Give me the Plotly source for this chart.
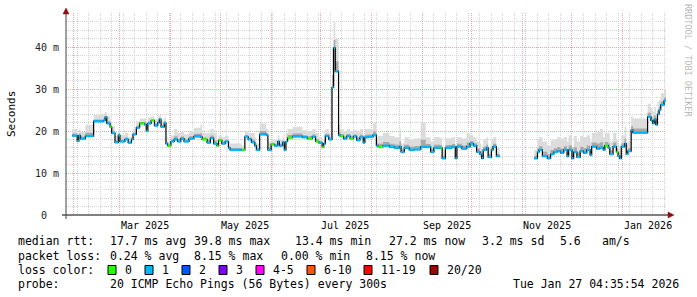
import plotly.graph_objects as go

# ---------------- data ----------------
start_time = "2025-01-27 04:35:54"
end_time = "2026-01-27 04:35:54"

dates = [
    "2025-01-31", "2025-02-03", "2025-02-04", "2025-02-05", "2025-02-08", "2025-02-13", "2025-02-19",
    "2025-02-20", "2025-02-21", "2025-02-23", "2025-02-24", "2025-02-26", "2025-02-28", "2025-03-01",
    "2025-03-04", "2025-03-06", "2025-03-08", "2025-03-09", "2025-03-11", "2025-03-13", "2025-03-16",
    "2025-03-17", "2025-03-18", "2025-03-20", "2025-03-22", "2025-03-24", "2025-03-25", "2025-03-26",
    "2025-03-28", "2025-03-29", "2025-03-30", "2025-04-01", "2025-04-03", "2025-04-05", "2025-04-07",
    "2025-04-09", "2025-04-12", "2025-04-15", "2025-04-19", "2025-04-20", "2025-04-23", "2025-04-25",
    "2025-04-27", "2025-04-29", "2025-04-30", "2025-05-02", "2025-05-04", "2025-05-06", "2025-05-07",
    "2025-05-14", "2025-05-16", "2025-05-18", "2025-05-20", "2025-05-22", "2025-05-23", "2025-05-25",
    "2025-05-29", "2025-05-30", "2025-06-01", "2025-06-03", "2025-06-05", "2025-06-06", "2025-06-08",
    "2025-06-09", "2025-06-10", "2025-06-11", "2025-06-14", "2025-06-20", "2025-06-23", "2025-06-26",
    "2025-06-28", "2025-06-30", "2025-07-02", "2025-07-03", "2025-07-04", "2025-07-06", "2025-07-08",
    "2025-07-09", "2025-07-10", "2025-07-12", "2025-07-13", "2025-07-15", "2025-07-17", "2025-07-19",
    "2025-07-21", "2025-07-23", "2025-07-25", "2025-07-27", "2025-07-28", "2025-07-30", "2025-08-02",
    "2025-08-04", "2025-08-05", "2025-08-08", "2025-08-12", "2025-08-15", "2025-08-18", "2025-08-19",
    "2025-08-21", "2025-08-24", "2025-08-27", "2025-08-31", "2025-09-03", "2025-09-06", "2025-09-08",
    "2025-09-12", "2025-09-13", "2025-09-15", "2025-09-19", "2025-09-21", "2025-09-22", "2025-09-25",
    "2025-09-28", "2025-09-30", "2025-10-02", "2025-10-04", "2025-10-06", "2025-10-07", "2025-10-08",
    "2025-10-10", "2025-10-11", "2025-10-13", "2025-10-14", "2025-10-16", "2025-10-18",
    "2025-11-08", "2025-11-10", "2025-11-11", "2025-11-13", "2025-11-16", "2025-11-18", "2025-11-20",
    "2025-11-22", "2025-11-24", "2025-11-26", "2025-11-28", "2025-11-29", "2025-12-01", "2025-12-02",
    "2025-12-04", "2025-12-06", "2025-12-08", "2025-12-10", "2025-12-12", "2025-12-13", "2025-12-16",
    "2025-12-18", "2025-12-20", "2025-12-21", "2025-12-23", "2025-12-24", "2025-12-26", "2025-12-28",
    "2025-12-29", "2025-12-30", "2025-12-31", "2026-01-02", "2026-01-03", "2026-01-04", "2026-01-06",
    "2026-01-07", "2026-01-16", "2026-01-18", "2026-01-19", "2026-01-20", "2026-01-21", "2026-01-22",
    "2026-01-23", "2026-01-24", "2026-01-26",
]

median_ms = [
    18.9, 17.6, 18.9, 18.2, 18.8, 22.3, 22.5,
    23.3, 21.8, 21.0, 19.5, 17.3, 19.0, 17.5,
    18.0, 17.2, 18.0, 19.2, 20.8, 21.8, 21.5,
    20.0, 21.8, 22.5, 21.3, 22.0, 22.8, 21.0,
    21.9, 17.0, 16.5, 17.5, 18.0, 17.5, 18.2,
    17.5, 18.2, 18.7, 18.6, 18.0, 17.2, 18.3,
    17.0, 16.5, 17.8, 17.0, 17.5, 16.0, 15.5,
    15.5, 18.6, 18.0, 17.3, 16.5, 15.5, 19.2,
    19.0, 15.5, 16.8, 16.5, 17.5, 16.5, 17.3,
    15.5, 17.5, 18.4, 18.7, 18.5, 18.2, 18.6,
    17.5, 17.2, 16.2, 17.0, 18.8, 18.0, 30.4,
    39.8, 34.2, 19.0, 18.8, 18.2, 18.8, 18.2,
    18.7, 17.8, 18.5, 17.2, 18.5, 18.6, 19.0,
    16.5, 16.2, 16.5, 16.2, 16.0, 16.3, 15.0,
    16.0, 15.5, 15.6, 16.2, 16.2, 15.0, 16.0,
    16.0, 13.5, 16.0, 16.2, 13.5, 16.3, 15.8,
    16.3, 17.0, 16.5, 15.0, 14.5, 13.5, 15.5,
    16.0, 13.8, 15.5, 16.3, 14.0, None,
    13.5, 15.0, 15.5, 14.0, 13.5, 14.5, 15.0,
    15.2, 14.8, 15.5, 14.0, 15.5, 13.5, 15.0,
    13.8, 15.2, 14.8, 15.5, 14.3, 16.3, 15.8,
    16.0, 15.5, 16.5, 16.0, 14.5, 16.3, 15.0,
    14.0, 13.5, 16.3, 17.0, 14.5, 15.2, 20.2,
    19.6, 23.4, 22.5, 21.8, 22.8, 21.5, 24.0,
    25.0, 26.2, 27.2,
]

smoke_max_ms = [
    20.5, 19.5, 20.3, 19.8, 21.5, 23.8, 24.2,
    24.5, 23.5, 22.5, 21.0, 18.8, 20.5, 19.0,
    19.5, 18.5, 19.5, 20.5, 22.3, 23.0, 23.0,
    21.5, 23.2, 23.5, 22.8, 23.5, 23.8, 22.5,
    23.2, 18.5, 17.5, 19.0, 20.5, 19.5, 19.8,
    19.2, 20.0, 20.8, 21.5, 19.5, 19.5, 20.5,
    19.5, 18.0, 19.0, 18.5, 18.8, 17.5, 17.0,
    16.5, 20.0, 19.5, 19.5, 18.5, 17.0, 21.8,
    20.5, 17.5, 18.0, 17.8, 19.0, 18.0, 18.5,
    17.0, 19.5, 20.5, 21.0, 20.2, 20.0, 20.5,
    19.5, 18.5, 17.2, 20.0, 20.5, 19.5, 40.0,
    46.0, 42.0, 21.5, 20.5, 20.0, 20.5, 20.0,
    20.3, 19.8, 20.5, 19.0, 20.5, 20.5, 22.0,
    18.5, 18.8, 19.5, 18.8, 18.5, 20.5, 17.0,
    18.5, 18.0, 18.3, 22.0, 18.5, 17.5, 18.5,
    18.3, 15.5, 18.3, 18.5, 15.5, 18.5, 18.2,
    19.5, 19.0, 18.5, 17.5, 17.0, 15.8, 18.0,
    18.5, 16.0, 18.0, 18.5, 16.0, None,
    15.5, 18.0, 18.5, 17.5, 16.5, 17.8, 18.0,
    18.5, 18.2, 18.5, 17.5, 19.0, 16.0, 18.8,
    17.5, 18.8, 18.5, 19.0, 17.5, 19.5, 19.8,
    20.5, 18.5, 19.5, 19.5, 17.5, 19.5, 18.0,
    16.5, 15.5, 19.0, 21.0, 17.0, 17.5, 23.5,
    23.0, 26.5, 25.5, 24.5, 25.8, 23.5, 27.0,
    27.5, 29.0, 29.8,
]

loss_pings = [
    1, 1, 1, 1, 1, 1, 1,
    1, 1, 0, 1, 1, 1, 1,
    1, 1, 1, 1, 1, 0, 1,
    1, 1, 0, 1, 1, 1, 1,
    1, 1, 0, 1, 1, 1, 1,
    1, 1, 1, 1, 0, 1, 1,
    1, 0, 0, 1, 1, 1, 1,
    0, 1, 1, 1, 1, 1, 1,
    1, 1, 0, 1, 1, 1, 1,
    1, 1, 0, 1, 1, 0, 1,
    0, 1, 0, 1, 1, 1, 1,
    1, 1, 1, 0, 1, 1, 0,
    1, 1, 1, 1, 1, 1, 1,
    1, 0, 1, 1, 1, 1, 1,
    1, 1, 1, 1, 1, 1, 1,
    0, 1, 1, 1, 1, 1, 1,
    1, 1, 1, 1, 1, 1, 1,
    1, 1, 1, 1, 1, None,
    1, 1, 1, 1, 1, 1, 1,
    1, 1, 1, 1, 1, 1, 1,
    1, 1, 1, 1, 1, 1, 1,
    1, 1, 0, 1, 1, 1, 0,
    1, 1, 1, 1, 1, 1, 1,
    1, 1, 1, 1, 1, 1, 1,
    1, 1, 1,
]

x_label_text = ["Mar 2025", "May 2025", "Jul 2025", "Sep 2025", "Nov 2025", "Jan 2026"]
x_label_pos = ["2025-03-16", "2025-05-16", "2025-07-16", "2025-09-16", "2025-11-16", "2026-01-16"]
y_tick_vals = [0, 10, 20, 30, 40]
y_tick_text = ["0\u00a0\u00a0", "10 m", "20 m", "30 m", "40 m"]

loss_labels = ["0", "1", "2", "3", "4-5", "6-10", "11-19", "20/20"]
loss_colors = ["#26ff00", "#00b8ff", "#0059ff", "#7e00ff", "#ff00ff", "#ff5500", "#ff0000", "#a00000"]

legend_rows = [
    [("median rtt:", 16), ("17.7 ms avg", 108), ("39.8 ms max", 192), ("13.4 ms min", 293),
     ("27.2 ms now", 387), ("3.2 ms sd", 480), ("5.6", 558), ("am/s", 600)],
    [("packet loss:", 16), ("0.24 % avg", 108), ("8.15 % max", 192), ("0.00 % min", 279),
     ("8.15 % now", 364)],
    [("loss color:", 16)],
    [("probe:", 16), ("20 ICMP Echo Pings (56 Bytes) every 300s", 108)],
]
stamp_text = "Tue Jan 27 04:35:54 2026"

# ---------------- geometry ----------------
FW, FH = 697, 297
L, T, W, H = 66, 13, 600, 202
MONO = "DejaVu Sans Mono"
LEG_SIZE = 11.5


def px(x):
    return (x - L) / W


def py(y):
    return (T + H - y) / H


# ---------------- build traces ----------------
fig = go.Figure()

runs = []
cur = []
for i, v in enumerate(median_ms):
    if v is None:
        if cur:
            runs.append((cur, dates[i]))
        cur = []
    else:
        cur.append(i)
if cur:
    runs.append((cur, end_time))

seg = {k: ([], []) for k in range(len(loss_colors))}
for idx, stop in runs:
    xs = [dates[i] for i in idx] + [stop]
    med = [median_ms[i] for i in idx] + [median_ms[idx[-1]]]
    hi = [smoke_max_ms[i] for i in idx] + [smoke_max_ms[idx[-1]]]
    mid = [m + 0.3 * (h - m) for m, h in zip(med, hi)]
    fig.add_trace(go.Scatter(x=xs, y=med, mode="lines", line=dict(width=0, shape="hv"),
                             hoverinfo="skip", showlegend=False))
    fig.add_trace(go.Scatter(x=xs, y=hi, mode="lines", line=dict(width=0, shape="hv"),
                             fill="tonexty", fillcolor="#dcdcdc", hoverinfo="skip", showlegend=False))
    fig.add_trace(go.Scatter(x=xs, y=med, mode="lines", line=dict(width=0, shape="hv"),
                             hoverinfo="skip", showlegend=False))
    fig.add_trace(go.Scatter(x=xs, y=mid, mode="lines", line=dict(width=0, shape="hv"),
                             fill="tonexty", fillcolor="#a9a9a9", hoverinfo="skip", showlegend=False))
    fig.add_trace(go.Scatter(x=xs, y=med, mode="lines", line=dict(width=1.2, color="#000000", shape="hv"),
                             hoverinfo="skip", showlegend=False))
    for j, i in enumerate(idx):
        c = loss_pings[i]
        sx, sy = seg[c]
        sx += [xs[j], xs[j + 1], None]
        sy += [median_ms[i], median_ms[i], None]

for c, (sx, sy) in seg.items():
    if sx:
        fig.add_trace(go.Scatter(x=sx, y=sy, mode="lines", line=dict(width=2.4, color=loss_colors[c]),
                                 hoverinfo="skip", showlegend=False))

# ---------------- annotations ----------------
ann = []
for txt, pos in zip(x_label_text, x_label_pos):
    ann.append(dict(x=pos, xref="x", y=py(225), yref="paper", text=txt, showarrow=False,
                    xanchor="center", yanchor="middle", font=dict(family=MONO, size=10, color="#000")))

ann.append(dict(x=px(11), y=py(114), xref="paper", yref="paper", text="Seconds", textangle=-90,
                showarrow=False, xanchor="center", yanchor="middle",
                font=dict(family=MONO, size=11, color="#000")))
ann.append(dict(x=px(688), y=py(60), xref="paper", yref="paper", text="RRDTOOL / TOBI OETIKER",
                textangle=90, showarrow=False, xanchor="center", yanchor="middle",
                font=dict(family=MONO, size=8.5, color="#b8b8b8")))

row_y = [241, 256, 270, 284]
for row, yy in zip(legend_rows, row_y):
    for txt, xx in row:
        ann.append(dict(x=px(xx), y=py(yy), xref="paper", yref="paper", text=txt, showarrow=False,
                        xanchor="left", yanchor="middle", font=dict(family=MONO, size=LEG_SIZE, color="#000")))
ann.append(dict(x=px(681), y=py(284), xref="paper", yref="paper", text=stamp_text, showarrow=False,
                xanchor="right", yanchor="middle", font=dict(family=MONO, size=LEG_SIZE, color="#000")))

shapes = []
box_x = [108, 145, 182, 219, 256, 307, 364, 430]
for bx, lab, col in zip(box_x, loss_labels, loss_colors):
    shapes.append(dict(type="rect", xref="paper", yref="paper", x0=px(bx), x1=px(bx + 8),
                       y0=py(274.5), y1=py(265.5), fillcolor=col, line=dict(color="#000", width=1)))
    ann.append(dict(x=px(bx + 15), y=py(270), xref="paper", yref="paper", text=lab, showarrow=False,
                    xanchor="left", yanchor="middle", font=dict(family=MONO, size=LEG_SIZE, color="#000")))

shapes.append(dict(type="line", xref="paper", yref="paper", x0=px(62), x1=px(668), y0=py(215), y1=py(215),
                   line=dict(color="#000", width=1.2)))
shapes.append(dict(type="line", xref="paper", yref="paper", x0=px(66), x1=px(66), y0=py(219), y1=py(13),
                   line=dict(color="#404040", width=1)))
shapes.append(dict(type="path", xref="paper", yref="paper",
                   path=f"M {px(668)} {py(212)} L {px(674)} {py(215)} L {px(668)} {py(218)} Z",
                   fillcolor="#8b1010", line=dict(color="#8b1010", width=0.5)))
shapes.append(dict(type="path", xref="paper", yref="paper",
                   path=f"M {px(63)} {py(14)} L {px(66)} {py(8)} L {px(69)} {py(14)} Z",
                   fillcolor="#8b1010", line=dict(color="#8b1010", width=0.5)))

fig.update_layout(
    width=FW, height=FH,
    margin=dict(l=L, r=FW - L - W, t=T, b=FH - T - H, pad=0),
    paper_bgcolor="#ffffff", plot_bgcolor="#ffffff",
    showlegend=False,
    annotations=ann,
    shapes=shapes,
    xaxis=dict(
        type="date", range=[start_time, end_time], showticklabels=False, ticks="",
        showgrid=True, gridcolor="#eba3a3", griddash="1px,1px", gridwidth=1,
        dtick="M1", tick0="2025-01-01", zeroline=False, showline=False, fixedrange=True,
        minor=dict(dtick=7 * 86400000, tick0="2025-02-03", showgrid=True,
                   gridcolor="#d2d2d2", griddash="1px,1px", gridwidth=1),
    ),
    yaxis=dict(
        range=[0, 48.1], tickmode="array", tickvals=y_tick_vals, ticktext=y_tick_text,
        showgrid=True, gridcolor="#eba3a3", griddash="1px,1px", gridwidth=1,
        zeroline=False, showline=False, ticks="", ticklabelstandoff=6,
        tickfont=dict(family=MONO, size=10, color="#222"), fixedrange=True,
        minor=dict(dtick=2, tick0=0, showgrid=True, gridcolor="#d2d2d2", griddash="1px,1px", gridwidth=1),
    ),
)

fig.write_html("out.html", config={"displayModeBar": False, "staticPlot": True})
